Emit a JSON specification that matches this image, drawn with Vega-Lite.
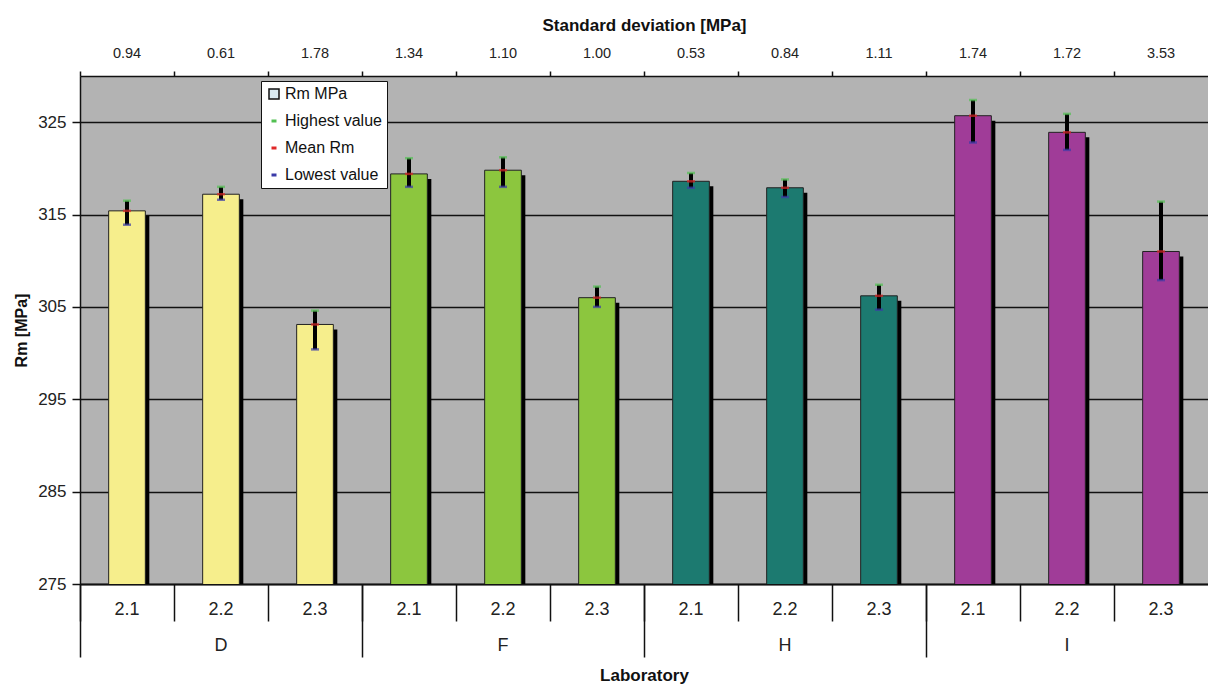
{
  "$schema": "https://vega.github.io/schema/vega-lite/v6.json",
  "width": 1128,
  "height": 508,
  "autosize": {"type": "none"},
  "padding": {"left": 80, "top": 76, "right": 0, "bottom": 102},
  "background": "white",
  "config": {
    "view": {"stroke": null, "fill": "#b3b3b3"},
    "font": "Liberation Sans",
    "axis": {"labelFont": "Liberation Sans", "titleFont": "Liberation Sans", "labelColor": "#222", "titleColor": "#111", "domainColor": "#111", "tickColor": "#111", "domainWidth": 1.5, "tickWidth": 1.5}
  },
  "data": {
    "values": [
      {"lab": "D", "key": "D 2.1", "sd": "0.94", "mean": 315.4, "low": 313.9, "high": 316.5},
      {"lab": "D", "key": "D 2.2", "sd": "0.61", "mean": 317.2, "low": 316.6, "high": 318.0},
      {"lab": "D", "key": "D 2.3", "sd": "1.78", "mean": 303.1, "low": 300.4, "high": 304.6},
      {"lab": "F", "key": "F 2.1", "sd": "1.34", "mean": 319.4, "low": 318.0, "high": 321.1},
      {"lab": "F", "key": "F 2.2", "sd": "1.10", "mean": 319.8, "low": 318.0, "high": 321.2},
      {"lab": "F", "key": "F 2.3", "sd": "1.00", "mean": 306.0, "low": 305.0, "high": 307.2},
      {"lab": "H", "key": "H 2.1", "sd": "0.53", "mean": 318.6, "low": 317.9, "high": 319.5},
      {"lab": "H", "key": "H 2.2", "sd": "0.84", "mean": 317.9, "low": 316.9, "high": 318.8},
      {"lab": "H", "key": "H 2.3", "sd": "1.11", "mean": 306.2, "low": 304.7, "high": 307.4},
      {"lab": "I", "key": "I 2.1", "sd": "1.74", "mean": 325.7, "low": 322.8, "high": 327.4},
      {"lab": "I", "key": "I 2.2", "sd": "1.72", "mean": 323.9, "low": 322.0, "high": 325.9},
      {"lab": "I", "key": "I 2.3", "sd": "3.53", "mean": 311.0, "low": 307.9, "high": 316.4}
    ]
  },
  "resolve": {"scale": {"x": "independent"}, "axis": {"x": "independent"}},
  "layer": [
    {
      "mark": {"type": "tick", "opacity": 0},
      "encoding": {
        "x": {"field": "lab", "type": "nominal", "sort": null, "scale": {"paddingInner": 0, "paddingOuter": 0},
          "axis": {"orient": "bottom", "title": "Laboratory", "titleFontSize": 17, "titleFontWeight": "bold", "titlePadding": 10, "labelAngle": 0, "labelFontSize": 18, "bandPosition": 0, "tickSize": 73, "labelPadding": -21, "domain": true, "grid": false}},
        "y": {"field": "mean", "type": "quantitative", "scale": {"domain": [275, 330], "nice": false, "zero": false},
          "axis": {"title": "Rm [MPa]", "values": [275, 285, 295, 305, 315, 325], "titleFontSize": 16, "titleFontWeight": "bold", "titlePadding": 8, "labelFontSize": 17, "tickSize": 8, "labelPadding": 6, "grid": true, "gridColor": "#111", "gridWidth": 1.5, "gridOpacity": 1}}
      }
    },
    {
      "mark": {"type": "bar", "color": "black", "xOffset": 4, "yOffset": 5, "clip": true, "width": {"band": 0.39}},
      "encoding": {
        "x": {"field": "key", "type": "nominal", "sort": null, "scale": {"paddingInner": 0, "paddingOuter": 0},
          "axis": {"orient": "bottom", "title": null, "labelAngle": 0, "labelFontSize": 18, "bandPosition": 0, "tickSize": 37, "labelPadding": -21, "labelExpr": "split(datum.label, ' ')[1]", "grid": false}},
        "y": {"field": "mean", "type": "quantitative", "scale": {"domain": [275, 330], "nice": false, "zero": false}, "axis": {"title": "Rm [MPa]"}}
      }
    },
    {
      "mark": {"type": "bar", "stroke": "#222", "strokeWidth": 1, "clip": true, "width": {"band": 0.39}},
      "encoding": {
        "x": {"field": "sd", "type": "nominal", "sort": null, "scale": {"paddingInner": 0, "paddingOuter": 0},
          "axis": {"orient": "top", "title": "Standard deviation [MPa]", "titleFontSize": 17, "titleFontWeight": "bold", "titlePadding": 11, "labelAngle": 0, "labelFontSize": 14.5, "bandPosition": 0, "tickSize": 5, "labelPadding": 11, "grid": false}},
        "y": {"field": "mean", "type": "quantitative", "scale": {"domain": [275, 330], "nice": false, "zero": false}, "axis": {"title": "Rm [MPa]"}},
        "fill": {"field": "lab", "type": "nominal", "scale": {"domain": ["D", "F", "H", "I"], "range": ["#f6ee8c", "#8cc63e", "#1c7a70", "#a03c98"]}, "legend": null}
      }
    },
    {
      "mark": {"type": "rule", "color": "black", "strokeWidth": 4},
      "encoding": {
        "x": {"field": "key", "type": "nominal", "sort": null, "scale": {"paddingInner": 0, "paddingOuter": 0}, "axis": null},
        "y": {"field": "low", "type": "quantitative", "scale": {"domain": [275, 330], "nice": false, "zero": false}, "axis": {"title": "Rm [MPa]"}},
        "y2": {"field": "high"}
      }
    },
    {
      "mark": {"type": "tick", "size": 8, "thickness": 2.5},
      "encoding": {
        "x": {"field": "key", "type": "nominal", "sort": null, "scale": {"paddingInner": 0, "paddingOuter": 0}, "axis": null},
        "y": {"field": "high", "type": "quantitative", "scale": {"domain": [275, 330], "nice": false, "zero": false}, "axis": {"title": "Rm [MPa]"}},
        "color": {"datum": "Highest value", "type": "nominal",
          "scale": {"domain": ["Rm MPa", "Highest value", "Mean Rm", "Lowest value"], "range": ["#d9eaf2", "#52c052", "#e02828", "#3a3aa8"]},
          "legend": {"title": null, "orient": "none", "legendX": 181, "legendY": 5, "fillColor": "white", "strokeColor": "#111", "padding": 5, "labelFontSize": 16, "labelColor": "#111", "rowPadding": 11, "symbolSize": 100, "labelOffset": 3,
            "encoding": {"symbols": {
              "shape": {"value": {"signal": "datum.value === 'Rm MPa' ? 'square' : 'M-0.5,0H0.5'"}},
              "fill": {"value": {"signal": "datum.value === 'Rm MPa' ? '#d9eaf2' : 'transparent'"}},
              "stroke": {"value": {"signal": "datum.value === 'Rm MPa' ? '#111111' : scale('color', datum.value)"}},
              "strokeWidth": {"value": {"signal": "datum.value === 'Rm MPa' ? 1.5 : 3"}},
              "opacity": {"value": 1}
            }}}}
      }
    },
    {
      "mark": {"type": "tick", "size": 8, "thickness": 2.5},
      "encoding": {
        "x": {"field": "key", "type": "nominal", "sort": null, "scale": {"paddingInner": 0, "paddingOuter": 0}, "axis": null},
        "y": {"field": "mean", "type": "quantitative", "scale": {"domain": [275, 330], "nice": false, "zero": false}, "axis": {"title": "Rm [MPa]"}},
        "color": {"datum": "Mean Rm", "type": "nominal"}
      }
    },
    {
      "mark": {"type": "tick", "size": 8, "thickness": 2.5},
      "encoding": {
        "x": {"field": "key", "type": "nominal", "sort": null, "scale": {"paddingInner": 0, "paddingOuter": 0}, "axis": null},
        "y": {"field": "low", "type": "quantitative", "scale": {"domain": [275, 330], "nice": false, "zero": false}, "axis": {"title": "Rm [MPa]"}},
        "color": {"datum": "Lowest value", "type": "nominal"}
      }
    }
  ]
}
